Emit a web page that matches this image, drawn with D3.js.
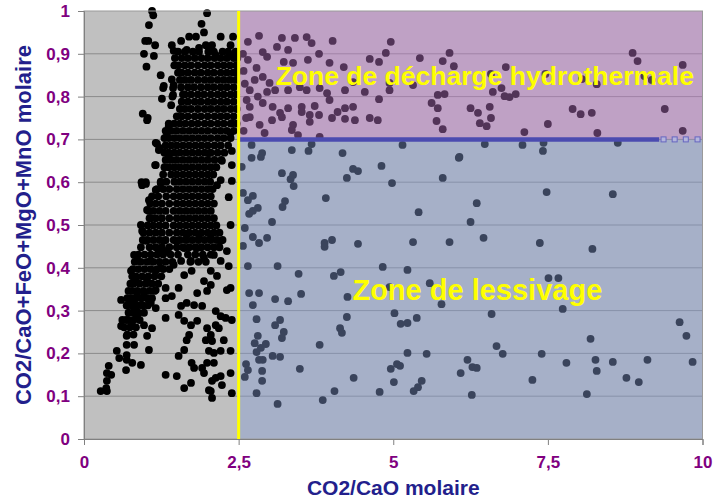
<!DOCTYPE html>
<html>
<head>
<meta charset="utf-8">
<script src="https://cdn.jsdelivr.net/npm/d3@7"></script>
<style>
body { margin: 0; background: #fff; }
svg { font-family: "Liberation Sans", Arial, sans-serif; }
</style>
</head>
<body>
<script>
// axis values
const xTicks = [0, 2.5, 5, 7.5, 10];
const yTicks = [0, 0.1, 0.2, 0.3, 0.4, 0.5, 0.6, 0.7, 0.8, 0.9, 1];
const xTitle = "CO2/CaO molaire";
const yTitle = "CO2/CaO+FeO+MgO+MnO molaire";

// zone limits
const zoneSplitX = 2.5;
const zoneSplitY = 0.7;
const thresholdEnd = 9.3;
const thresholdMarkers = [9.37, 9.55, 9.73, 9.92];
const zoneTop = "Zone de décharge hydrothermale";
const zoneBottom = "Zone de lessivage";

// dense core of the left cloud, row by row: [y, [x...]]
const denseRows = [
    [0.905, [1.52, 1.63, 1.76, 1.86, 2.01, 2.10, 2.24, 2.33, 2.45]],
    [0.89, [1.47, 1.58, 1.68, 1.79, 1.90, 2.00, 2.11, 2.21, 2.31, 2.42, 2.48]],
    [0.873, [1.46, 1.53, 1.63, 1.73, 1.84, 1.95, 2.05, 2.16, 2.26, 2.36, 2.46]],
    [0.856, [1.52, 1.58, 1.68, 1.79, 1.89, 2.00, 2.10, 2.21, 2.31, 2.41, 2.47]],
    [0.839, [1.55, 1.63, 1.73, 1.84, 1.95, 2.05, 2.16, 2.26, 2.36, 2.46]],
    [0.822, [1.57, 1.68, 1.78, 1.89, 2.00, 2.10, 2.21, 2.31, 2.42]],
    [0.805, [1.60, 1.63, 1.73, 1.84, 1.94, 2.05, 2.16, 2.26, 2.37, 2.46]],
    [0.788, [1.58, 1.68, 1.79, 1.89, 2.00, 2.10, 2.21, 2.31, 2.42]],
    [0.771, [1.55, 1.63, 1.73, 1.84, 1.95, 2.05, 2.16, 2.26, 2.37, 2.47]],
    [0.754, [1.50, 1.58, 1.68, 1.79, 1.89, 2.00, 2.11, 2.21, 2.31, 2.42]],
    [0.737, [1.37, 1.46, 1.55, 1.64, 1.74, 1.84, 1.95, 2.05, 2.16, 2.26, 2.37, 2.47]],
    [0.72, [1.32, 1.41, 1.50, 1.60, 1.70, 1.80, 1.90, 2.00, 2.11, 2.21, 2.31, 2.42]],
    [0.703, [1.30, 1.37, 1.46, 1.55, 1.65, 1.75, 1.85, 1.95, 2.05, 2.16, 2.26, 2.37]],
    [0.686, [1.32, 1.41, 1.50, 1.60, 1.70, 1.80, 1.90, 2.00, 2.11, 2.21, 2.33]],
    [0.669, [1.30, 1.37, 1.46, 1.55, 1.65, 1.75, 1.85, 1.95, 2.05, 2.16, 2.27]],
    [0.652, [1.32, 1.41, 1.50, 1.60, 1.70, 1.80, 1.90, 2.00, 2.11, 2.22]],
    [0.635, [1.30, 1.37, 1.46, 1.55, 1.65, 1.75, 1.85, 1.95, 2.05, 2.14]],
    [0.618, [1.28, 1.41, 1.50, 1.60, 1.70, 1.80, 1.90, 2.00, 2.09]],
    [0.601, [1.24, 1.33, 1.46, 1.55, 1.65, 1.75, 1.85, 1.95, 2.04]],
    [0.584, [1.18, 1.28, 1.38, 1.50, 1.60, 1.70, 1.80, 1.90, 2.00, 2.08]],
    [0.567, [1.10, 1.20, 1.33, 1.45, 1.55, 1.65, 1.75, 1.85, 1.95, 2.05]],
    [0.55, [1.07, 1.16, 1.26, 1.38, 1.50, 1.60, 1.70, 1.80, 1.90, 2.00, 2.10]],
    [0.533, [1.05, 1.12, 1.22, 1.32, 1.45, 1.55, 1.65, 1.75, 1.85, 1.95, 2.05]],
    [0.516, [1.06, 1.16, 1.26, 1.38, 1.50, 1.60, 1.70, 1.80, 1.90, 2.00, 2.10]],
    [0.499, [1.03, 1.12, 1.22, 1.32, 1.45, 1.55, 1.65, 1.75, 1.85, 1.95, 2.05, 2.14]],
    [0.482, [0.96, 1.06, 1.16, 1.26, 1.38, 1.50, 1.60, 1.70, 1.80, 1.90, 2.00, 2.10, 2.19]],
    [0.465, [0.95, 1.02, 1.12, 1.22, 1.32, 1.45, 1.55, 1.65, 1.75, 1.85, 1.95, 2.05, 2.15, 2.24]],
    [0.448, [0.92, 1.06, 1.16, 1.26, 1.38, 1.50, 1.60, 1.70, 1.80, 1.90, 2.00, 2.10, 2.19]],
    [0.431, [0.88, 0.98, 1.08, 1.18, 1.28, 1.40, 1.52, 1.68, 1.80, 1.92, 2.05]],
    [0.414, [0.82, 0.92, 1.02, 1.12, 1.22, 1.32, 1.43, 1.72, 1.85, 1.97]],
    [0.397, [0.79, 0.88, 0.98, 1.08, 1.18, 1.28, 1.38]],
    [0.38, [0.78, 0.84, 0.94, 1.04, 1.14, 1.25]],
    [0.363, [0.75, 0.80, 0.90, 1.00, 1.10, 1.20]],
    [0.346, [0.72, 0.78, 0.86, 0.96, 1.06, 1.14]],
    [0.329, [0.70, 0.76, 0.84, 0.93, 1.02, 1.10]],
    [0.312, [0.69, 0.77, 0.86, 0.95, 1.03]],
    [0.295, [0.72, 0.80, 0.88, 0.97]],
    [0.278, [0.62, 0.72, 0.80, 0.90]],
    [0.261, [0.65, 0.74, 0.84]],
    [0.244, [0.70, 0.80]]
];

// scattered points of the left cloud (x < 2.5)
const leftPoints = [
    [1.10, 1.0], [1.12, 0.99], [1.05, 0.967], [1.99, 0.995], [1.90, 0.97], [1.94, 0.95],
    [0.99, 0.93], [1.04, 0.93], [1.15, 0.92], [0.97, 0.90], [1.13, 0.895], [1.01, 0.87],
    [1.24, 0.85], [1.28, 0.82], [1.26, 0.795], [1.42, 0.84], [1.44, 0.82], [1.43, 0.80],
    [0.95, 0.76], [1.03, 0.75], [1.18, 0.69], [1.22, 0.68], [1.16, 0.64], [0.93, 0.60], [1.0, 0.60],
    [1.42, 0.92], [1.57, 0.93], [1.70, 0.94], [1.81, 0.94], [1.97, 0.92], [2.07, 0.92],
    [2.21, 0.94], [2.37, 0.92], [2.41, 0.94],
    [1.29, 0.825], [1.45, 0.827], [1.44, 0.804], [1.41, 0.78], [1.45, 0.907], [1.66, 0.909],
    [1.86, 0.914], [2.13, 0.897], [2.37, 0.897],
    [1.02, 0.745], [1.37, 0.731], [1.34, 0.715], [1.16, 0.692], [1.21, 0.675], [1.37, 0.664],
    [1.15, 0.64], [0.94, 0.593], [1.0, 0.596], [1.24, 0.598], [1.05, 0.558], [1.16, 0.582],
    [1.02, 0.535], [1.08, 0.516], [0.92, 0.50], [2.21, 0.605], [2.15, 0.593], [2.39, 0.603],
    [2.34, 0.565], [2.37, 0.50], [2.39, 0.738], [2.37, 0.715], [2.39, 0.673], [2.02, 0.668],
    [2.23, 0.65], [2.39, 0.64],
    [0.94, 0.486], [1.0, 0.463], [0.81, 0.43], [0.86, 0.416], [0.76, 0.393], [0.84, 0.371],
    [0.60, 0.325], [0.78, 0.325], [0.86, 0.334], [0.81, 0.306], [0.92, 0.313], [0.86, 0.283],
    [0.68, 0.278], [0.60, 0.264], [0.78, 0.264], [0.97, 0.266], [1.10, 0.259], [0.69, 0.241],
    [1.02, 0.241], [1.16, 0.348], [1.32, 0.353], [1.32, 0.283], [1.29, 0.463], [1.34, 0.439],
    [1.21, 0.439], [1.08, 0.416], [1.24, 0.40], [1.45, 0.407], [1.16, 0.393], [1.02, 0.369],
    [0.97, 0.341], [1.08, 0.318], [1.16, 0.306], [1.42, 0.334], [1.53, 0.353], [1.57, 0.311],
    [1.53, 0.29], [1.62, 0.276], [1.66, 0.318], [1.78, 0.313], [1.91, 0.311], [1.83, 0.341],
    [1.99, 0.346], [2.05, 0.36], [1.94, 0.369], [1.62, 0.383], [1.74, 0.393], [1.57, 0.416],
    [1.73, 0.416], [1.83, 0.446], [1.62, 0.446], [1.50, 0.463], [1.66, 0.477], [1.86, 0.47],
    [2.05, 0.47], [1.94, 0.423], [2.10, 0.43], [2.21, 0.416], [2.34, 0.404], [2.31, 0.439],
    [2.21, 0.463], [2.05, 0.393], [2.15, 0.381], [2.37, 0.353], [2.31, 0.348], [2.13, 0.299],
    [2.21, 0.287], [2.29, 0.283], [2.39, 0.278], [2.13, 0.266], [1.73, 0.266], [1.83, 0.276],
    [1.99, 0.259], [2.18, 0.259], [1.70, 0.243], [2.05, 0.243], [1.32, 0.329],
    [0.69, 0.22], [0.81, 0.22], [0.53, 0.206], [0.57, 0.189], [0.69, 0.196], [1.05, 0.208],
    [0.40, 0.171], [0.37, 0.154], [0.44, 0.15], [0.37, 0.136], [0.36, 0.119], [0.27, 0.112],
    [0.37, 0.112], [0.68, 0.161], [0.78, 0.178], [0.92, 0.173], [0.69, 0.185], [1.32, 0.15],
    [1.50, 0.147], [1.62, 0.119], [1.73, 0.131], [1.53, 0.194], [1.62, 0.208], [1.66, 0.231],
    [1.74, 0.178], [1.78, 0.166], [1.91, 0.166], [1.94, 0.154], [1.99, 0.178], [2.10, 0.178],
    [2.02, 0.206], [2.10, 0.201], [2.21, 0.206], [2.37, 0.206], [1.97, 0.231], [2.07, 0.229],
    [2.26, 0.231], [2.13, 0.143], [2.07, 0.136], [2.05, 0.112], [2.07, 0.096], [2.21, 0.147],
    [2.23, 0.126], [2.37, 0.154], [2.39, 0.107], [2.02, 0.114]
];

// points in the hydrothermal zone (x > 2.5, y > 0.7)
const topPoints = [
    [2.65, 0.928], [2.83, 0.942], [3.20, 0.937], [3.41, 0.937], [3.60, 0.939], [3.68, 0.925],
    [4.02, 0.93], [4.96, 0.928], [2.89, 0.904], [3.12, 0.916], [3.30, 0.909], [3.80, 0.90],
    [4.88, 0.902], [5.43, 0.89], [5.91, 0.902], [5.80, 0.883], [5.98, 0.871], [4.62, 0.888],
    [4.77, 0.881], [2.65, 0.886], [2.96, 0.893], [3.23, 0.881], [3.38, 0.879], [3.62, 0.886],
    [3.97, 0.879], [4.20, 0.869], [2.79, 0.867], [2.76, 0.839], [2.89, 0.846], [3.0, 0.832],
    [2.68, 0.815], [2.63, 0.792], [2.81, 0.80], [2.96, 0.811], [3.09, 0.815], [3.30, 0.815],
    [3.49, 0.822], [3.60, 0.815], [3.81, 0.82], [3.93, 0.808], [3.97, 0.792], [4.22, 0.815],
    [4.35, 0.834], [4.54, 0.811], [4.77, 0.794], [4.94, 0.815], [4.94, 0.832], [5.32, 0.827],
    [5.72, 0.804], [5.83, 0.806], [5.62, 0.785], [5.72, 0.773], [5.70, 0.743], [5.80, 0.724],
    [6.25, 0.773], [6.37, 0.762], [2.68, 0.776], [2.89, 0.785], [3.05, 0.776], [3.17, 0.762],
    [3.30, 0.773], [3.52, 0.776], [3.73, 0.778], [3.52, 0.764], [3.65, 0.757], [3.80, 0.757],
    [4.01, 0.75], [4.10, 0.764], [4.22, 0.773], [4.35, 0.776], [4.38, 0.745], [4.22, 0.748],
    [4.62, 0.75], [4.75, 0.745], [3.65, 0.741], [2.68, 0.752], [2.84, 0.734], [3.04, 0.745],
    [3.20, 0.752], [3.38, 0.734], [3.36, 0.722], [3.46, 0.71], [2.92, 0.715], [3.81, 0.706],
    [8.87, 0.902], [8.95, 0.883], [9.68, 0.874], [6.82, 0.869], [6.58, 0.853], [7.46, 0.853],
    [8.05, 0.841], [8.29, 0.829], [9.06, 0.848], [9.18, 0.839], [6.75, 0.82], [6.61, 0.811],
    [6.80, 0.801], [6.88, 0.799], [6.98, 0.806], [6.56, 0.776], [6.58, 0.75], [6.40, 0.738],
    [6.51, 0.731], [7.90, 0.771], [8.03, 0.759], [8.21, 0.762], [9.39, 0.771], [7.50, 0.736],
    [7.12, 0.717], [8.30, 0.715], [9.68, 0.72],
    [2.58, 0.86], [2.60, 0.83], [2.57, 0.90], [2.62, 0.75], [2.58, 0.72]
];

// points in the leaching zone (x > 2.5, y < 0.7)
const bottomPoints = [
    [2.71, 0.687], [3.36, 0.675], [3.68, 0.689], [4.18, 0.668], [5.15, 0.687], [6.07, 0.659],
    [2.88, 0.668], [6.48, 0.689], [7.09, 0.687], [7.43, 0.692], [7.42, 0.673], [8.63, 0.692],
    [2.71, 0.657], [2.86, 0.659], [3.63, 0.673], [3.20, 0.621], [3.38, 0.617], [3.34, 0.607],
    [3.39, 0.591], [4.25, 0.61], [4.35, 0.631], [4.43, 0.626], [4.81, 0.638], [4.98, 0.598],
    [5.80, 0.61], [6.06, 0.657], [2.55, 0.636], [2.57, 0.575], [2.73, 0.568], [2.65, 0.558],
    [3.91, 0.563], [3.25, 0.556], [3.21, 0.542], [2.81, 0.54], [2.73, 0.533], [2.67, 0.526],
    [5.41, 0.53], [6.35, 0.551], [3.04, 0.507], [2.60, 0.493], [6.25, 0.507], [2.73, 0.472],
    [2.96, 0.47], [2.83, 0.458], [3.89, 0.458], [3.89, 0.449], [4.01, 0.465], [4.43, 0.456],
    [5.32, 0.46], [5.91, 0.46], [2.57, 0.451], [2.65, 0.404], [3.13, 0.404], [3.47, 0.386],
    [4.04, 0.381], [4.15, 0.39], [4.83, 0.402], [5.23, 0.395], [5.59, 0.364], [2.67, 0.341],
    [2.83, 0.341], [3.09, 0.327], [3.30, 0.322], [3.51, 0.339], [4.26, 0.332], [2.73, 0.313],
    [5.78, 0.315], [4.94, 0.355], [7.48, 0.577], [8.55, 0.572], [6.46, 0.47], [7.37, 0.458],
    [8.22, 0.444], [7.51, 0.376], [7.67, 0.376], [7.74, 0.304], [2.79, 0.28], [3.09, 0.266],
    [3.17, 0.278], [3.23, 0.25], [3.20, 0.236], [4.25, 0.285], [4.14, 0.259], [4.17, 0.248],
    [5.02, 0.294], [5.12, 0.269], [5.23, 0.271], [5.38, 0.283], [2.81, 0.241], [2.76, 0.224],
    [2.94, 0.222], [2.86, 0.213], [2.79, 0.203], [3.05, 0.194], [3.17, 0.192], [2.83, 0.185],
    [2.89, 0.185], [3.81, 0.22], [5.23, 0.201], [5.54, 0.199], [2.62, 0.175], [2.65, 0.161],
    [2.60, 0.145], [2.88, 0.159], [2.88, 0.136], [3.49, 0.164], [4.36, 0.143], [4.96, 0.164],
    [5.06, 0.175], [5.11, 0.171], [5.01, 0.133], [5.46, 0.136], [5.40, 0.121], [5.33, 0.112],
    [4.78, 0.11], [4.05, 0.112], [3.86, 0.091], [2.79, 0.107], [3.13, 0.082], [6.20, 0.185],
    [6.28, 0.168], [6.35, 0.166], [6.09, 0.154], [6.27, 0.103], [6.59, 0.292], [9.63, 0.273],
    [9.74, 0.241], [6.67, 0.217], [6.77, 0.199], [7.40, 0.199], [8.19, 0.234], [7.25, 0.138],
    [7.80, 0.178], [8.27, 0.185], [8.29, 0.159], [8.55, 0.18], [8.77, 0.143], [8.97, 0.133],
    [9.11, 0.185], [9.84, 0.18], [8.13, 0.105]
];

const width = 720, height = 500;
const plot = {left: 84, right: 702.5, top: 11, bottom: 439};

const svg = d3.select("body").append("svg")
    .attr("width", width)
    .attr("height", height);

const x = d3.scaleLinear().domain([0, 10]).range([plot.left, plot.right]);
const y = d3.scaleLinear().domain([0, 1]).range([plot.bottom, plot.top]);
const fmt = (d) => String(d).replace(".", ",");

// plot background
svg.append("rect")
    .attr("x", x(0)).attr("y", y(1))
    .attr("width", x(10) - x(0)).attr("height", y(0) - y(1))
    .attr("fill", "#c0c0c0");

// gridlines
svg.append("g").selectAll("line")
    .data(yTicks.filter((d) => d > 0 && d < 1))
    .enter().append("line")
    .attr("x1", x(0)).attr("x2", x(10))
    .attr("y1", (d) => y(d)).attr("y2", (d) => y(d))
    .attr("stroke", "#8a8a8a")
    .attr("stroke-width", 1);

// all points, black
const allPoints = denseRows.flatMap((r) => r[1].map((v) => [v, r[0]]))
    .concat(leftPoints, topPoints, bottomPoints);

svg.append("g").selectAll("circle")
    .data(allPoints)
    .enter().append("circle")
    .attr("cx", (d) => x(d[0]))
    .attr("cy", (d) => y(d[1]))
    .attr("r", 3.9)
    .attr("fill", "#000");

// zone overlays
svg.append("rect")
    .attr("x", x(zoneSplitX)).attr("y", y(1))
    .attr("width", x(10) - x(zoneSplitX)).attr("height", y(zoneSplitY) - y(1))
    .attr("fill", "rgb(190,120,204)")
    .attr("fill-opacity", 0.43);

svg.append("rect")
    .attr("x", x(zoneSplitX)).attr("y", y(zoneSplitY))
    .attr("width", x(10) - x(zoneSplitX)).attr("height", y(0) - y(zoneSplitY))
    .attr("fill", "rgb(132,155,209)")
    .attr("fill-opacity", 0.44);

// plot border
svg.append("rect")
    .attr("x", x(0)).attr("y", y(1))
    .attr("width", x(10) - x(0)).attr("height", y(0) - y(1))
    .attr("fill", "none")
    .attr("stroke", "#9a9a9a");

// threshold line at 0.7
svg.append("line")
    .attr("x1", x(zoneSplitX)).attr("x2", x(thresholdEnd))
    .attr("y1", y(zoneSplitY)).attr("y2", y(zoneSplitY))
    .attr("stroke", "#4b4bb0")
    .attr("stroke-width", 4.5);

svg.append("g").selectAll("rect")
    .data(thresholdMarkers)
    .enter().append("rect")
    .attr("x", (d) => x(d) - 2.5)
    .attr("y", y(zoneSplitY) - 2.5)
    .attr("width", 5).attr("height", 5)
    .attr("fill", "#b4b4dc")
    .attr("stroke", "#6666c0")
    .attr("stroke-width", 1);

// vertical limit at 2.5
svg.append("line")
    .attr("x1", x(zoneSplitX)).attr("x2", x(zoneSplitX))
    .attr("y1", y(0)).attr("y2", y(1))
    .attr("stroke", "#ffff00")
    .attr("stroke-width", 3);

// axes
const yAxis = d3.axisLeft(y).tickValues(yTicks).tickFormat(fmt).tickSize(6).tickPadding(8);
const xAxis = d3.axisBottom(x).tickValues(xTicks).tickFormat(fmt).tickSize(6).tickPadding(11);

const gy = svg.append("g")
    .attr("transform", "translate(" + x(0) + ",0)")
    .call(yAxis);
const gx = svg.append("g")
    .attr("transform", "translate(0," + y(0) + ")")
    .call(xAxis);

[gx, gy].forEach((g) => {
    g.selectAll("path, line").attr("stroke", "#808080");
    g.selectAll("text")
        .attr("fill", "#800080")
        .style("font-size", "17px")
        .style("font-weight", "bold")
        .style("font-family", '"Liberation Sans", Arial, sans-serif');
});

// axis titles
svg.append("text")
    .attr("x", x(5))
    .attr("y", 495)
    .attr("text-anchor", "middle")
    .attr("fill", "#231f8c")
    .style("font-size", "21px")
    .style("font-weight", "bold")
    .text(xTitle);

svg.append("text")
    .attr("transform", "translate(31," + ((y(0) + y(1)) / 2) + ") rotate(-90)")
    .attr("text-anchor", "middle")
    .attr("fill", "#231f8c")
    .style("font-size", "22px")
    .style("font-weight", "bold")
    .text(yTitle);

// zone labels
svg.append("text")
    .attr("x", x(6.48))
    .attr("y", y(0.827))
    .attr("text-anchor", "middle")
    .attr("fill", "#ffff00")
    .style("font-size", "26.5px")
    .style("font-weight", "bold")
    .text(zoneTop);

svg.append("text")
    .attr("x", x(6.36))
    .attr("y", y(0.325))
    .attr("text-anchor", "middle")
    .attr("fill", "#ffff00")
    .style("font-size", "29px")
    .style("font-weight", "bold")
    .text(zoneBottom);
</script>
</body>
</html>
